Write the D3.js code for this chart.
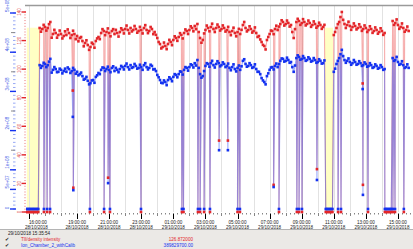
<!DOCTYPE html>
<html><head><meta charset="utf-8">
<script src="https://cdn.jsdelivr.net/npm/d3@7"></script>
<style>body{margin:0;background:#fff;overflow:hidden}svg{display:block;font-family:"Liberation Sans",Arial,sans-serif}</style>
</head><body><svg id="chart" width="413" height="249"></svg>
<script>
// ---------- DATA ----------
const seriesStart = "2018-10-28T15:50:00"; // main samples every 10 minutes
const sampleStepMin = 10;
// TII/density intensity (red axis) at the main samples
const tiiDensity = [0,0,0,0,0,
 128.8,128.1,129.5,128.8,133.0,
 124.6,125.3,123.9,124.6,123.2,123.9,125.3,123.9,124.6,123.2,
 121.8,119.7,118.3,116.9,115.5,117.6,119.7,
 122.5,125.3,126.7,
 126.0,125.3,126.7,124.6,125.3,126.0,127.4,
 128.1,127.4,128.8,127.4,128.1,126.7,127.4,128.8,127.4,126.7,128.1,126.0,
 121.8,117.6,115.5,116.2,
 117.6,119.0,120.4,121.8,122.5,123.9,125.3,126.7,127.4,128.8,130.2,
 131.6,121.8,120.4,
 127.4,128.8,129.5,128.1,128.8,129.5,128.1,128.8,
 127.4,126.0,126.7,125.3,126.0,124.6,
 130.9,128.8,127.4,128.1,126.7,125.3,
 123.2,119.0,116.2,120.4,
 124.6,126.7,128.1,127.4,
 131.6,133.0,131.6,132.3,130.9,
 121.8,
 133.0,133.7,132.3,133.0,131.6,132.3,130.9,131.6,130.2,130.9,129.5,
 0,0,0,
 123.9,128.8,133.0,140.0,131.6,
 130.9,130.2,129.5,130.2,128.8,129.5,128.1,128.8,127.4,128.1,126.7,127.4,126.0,126.7,125.3,
 0,0,
 133.7,132.3,130.9,129.5,128.8,127.4,126.7];
// TII/density intensity at the in-between samples (+5 min)
const tiiDensityMid = [0,0,0,0,0,
 126.2,131.0,127.0,131.5,122.0,127.5,122.0,127.0,121.5,126.5,127.8,121.8,126.9,121.0,119.5,
 122.5,116.0,120.2,113.5,118.5,115.0,121.5,121.0,128.0,123.8,128.5,123.0,128.0,127.5,122.8,
 128.6,125.0,130.5,125.0,126.4,130.2,125.5,129.6,125.0,130.8,125.2,129.5,124.5,124.0,119.0,
 114.5,118.6,114.0,120.5,116.8,123.0,119.8,125.2,121.5,127.8,124.6,130.0,126.5,128.0,126.0,
 118.5,125.0,130.5,126.5,131.8,126.0,131.2,127.0,130.6,126.3,129.6,123.8,129.0,123.0,128.2,
 127.5,133.0,126.4,130.0,125.6,129.2,122.5,120.8,117.0,113.8,122.5,127.0,124.5,130.4,129.8,
 134.2,130.5,134.0,129.8,126.0,128.0,135.2,131.0,135.0,130.6,134.0,129.6,133.4,129.0,132.5,
 128.2,131.0,0,0,0,126.0,131.5,136.5,134.5,128.8,133.2,127.5,132.0,127.8,131.4,
 126.8,130.6,126.0,130.0,125.4,129.2,124.8,128.6,124.0,0,0,0,131.0,134.8,128.2,132.0,126.2,129.8];
// Ion_Chamber_2_withCalib (blue axis), in units of 1e6, main samples
const ionChamberE6 = [0,0,0,0,0,
 367,365,370,367,383,
 355,357,350,355,352,350,357,352,355,350,
 344,339,332,327,321,329,337,
 347,355,360,
 357,355,360,352,355,357,362,
 365,362,367,362,365,360,362,367,362,360,365,357,
 342,329,321,324,
 329,332,337,342,344,350,355,360,362,367,372,
 380,344,339,
 365,370,372,367,370,372,367,370,
 365,360,362,357,360,355,
 378,370,365,367,362,357,
 350,334,324,339,
 355,362,365,362,
 378,383,378,380,375,
 350,
 385,388,383,385,380,383,378,380,375,378,372,
 0,0,0,
 350,370,385,406,380,
 378,375,372,375,370,372,367,370,365,367,362,365,360,362,357,
 0,0,
 385,380,375,370,367,362,360];
// Ion_Chamber_2_withCalib in-between samples (+5 min), units of 1e6
const ionChamberMidE6 = [0,0,0,0,0,
 360,373,362,376,348,362,349,358,346,358,361,347,360,345,341,
 348,330,337,318,328,322,341,344,361,352,363,349,364,360,349,
 365,356,371,356,360,370,358,368,355,372,356,368,356,352,336,
 322,328,316,336,326,344,336,351,343,362,353,369,361,366,360,
 335,352,372,363,378,361,377,364,374,362,371,354,369,351,366,
 364,382,363,372,360,369,350,344,328,318,346,361,356,371,370,
 384,376,386,373,362,366,392,381,390,378,387,376,385,373,382,
 371,379,0,0,0,358,378,395,390,373,384,368,380,368,377,
 365,374,363,372,360,369,358,367,355,0,0,0,378,388,368,377,360,369];
// Drop-outs (short events between samples)
const dropTimes = ["2018-10-28T16:56","2018-10-28T17:08","2018-10-28T17:19","2018-10-28T18:44","2018-10-28T18:46",
 "2018-10-28T19:48","2018-10-28T20:41","2018-10-28T20:56","2018-10-28T21:03","2018-10-28T22:59",
 "2018-10-29T01:32","2018-10-29T01:38","2018-10-29T02:32","2018-10-29T02:40","2018-10-29T02:55","2018-10-29T03:17",
 "2018-10-29T03:51","2018-10-29T04:24","2018-10-29T05:00","2018-10-29T05:09","2018-10-29T07:15","2018-10-29T07:35",
 "2018-10-29T08:42","2018-10-29T08:50","2018-10-29T09:01","2018-10-29T09:57","2018-10-29T11:16","2018-10-29T11:27",
 "2018-10-29T12:48","2018-10-29T12:49","2018-10-29T13:08","2018-10-29T14:11","2018-10-29T14:41","2018-10-29T14:49","2018-10-29T15:22"];
const dropRed =  [0,0,0,85,17, 0,0,24,0,0, 0,0,0,0,0,0, 50,50,0,0,19,0, 0,0,0,30,0,0, 90,19,0,0,0,0,0];
const dropBlueE6=[0,0,0,235,48, 0,0,66,0,0, 0,0,0,0,0,0, 150,150,0,0,56,0, 0,0,0,74,0,0, 306,36,0,0,0,0,0];
// highlighted (no-beam) periods
const bandStarts = ["2018-10-28T15:52","2018-10-29T10:27"];
const bandEnds   = ["2018-10-28T16:41","2018-10-29T10:57"];
// axes
const redTicks = [0,20,40,60,80,100,120,140];
const blueTicks = [0,5e7,1e8,2e8,3e8,4e8,5e8];
const blueTickLabels = ["0","5e+07","1e+08","2e+08","3e+08","4e+08","5e+08"];
const blueHalfTicks = [1.5e8,2.5e8,3.5e8,4.5e8];
const xLabelTimes = ["2018-10-28T16:00","2018-10-28T19:00","2018-10-28T21:00","2018-10-28T23:00","2018-10-29T01:00","2018-10-29T03:00",
 "2018-10-29T05:00","2018-10-29T07:00","2018-10-29T09:00","2018-10-29T11:00","2018-10-29T13:00","2018-10-29T15:00"];
const xLabelTop = ["16:00:00","19:00:00","21:00:00","23:00:00","01:00:00","03:00:00","05:00:00","07:00:00","09:00:00","11:00:00","13:00:00","15:00:00"];
const xLabelBottom = ["28/10/2018","28/10/2018","28/10/2018","28/10/2018","29/10/2018","29/10/2018","29/10/2018","29/10/2018","29/10/2018","29/10/2018","29/10/2018","29/10/2018"];
const legendTime = "29/10/2018 15:35:54";
const legendNames = ["TII/density intensity","Ion_Chamber_2_withCalib"];
const legendValues = ["126.872000","389829700.00"];

// ---------- BUILD ----------
const RED="#e3262a", BLUE="#1432f0", RED_L="rgba(236,70,70,0.45)", BLUE_L="rgba(60,90,250,0.5)";
const parse = s => new Date(s);
const t0 = parse(seriesStart);
const stepMs = sampleStepMin*60000;
const rows = tiiDensity.map((v,i)=>({t:new Date(+t0 + i*stepMs), r:v, b:ionChamberE6[i]*1e6}));
tiiDensityMid.forEach((v,i)=>rows.push({t:new Date(+t0 + i*stepMs + stepMs/2), r:v, b:ionChamberMidE6[i]*1e6}));
dropTimes.forEach((s,i)=>rows.push({t:parse(s), r:dropRed[i], b:dropBlueE6[i]*1e6}));
rows.sort((a,b)=>a.t-b.t);

const svg = d3.select("#chart");
const x = d3.scaleTime().domain([parse("2018-10-28T15:49"), parse("2018-10-29T15:45")]).range([26,410]);
const yR = d3.scaleLinear().domain([0,140]).range([212,12]);
const yB = d3.scaleLinear().domain([0,5e8]).range([209,13]);

// bands
svg.append("g").selectAll("rect").data(bandStarts).join("rect")
  .attr("x",(d,i)=>x(parse(d))).attr("width",(d,i)=>x(parse(bandEnds[i]))-x(parse(d)))
  .attr("y",yR(129)).attr("height",yR(0)-yR(129)).attr("fill","#ffffc4");

// vertical hour grid
const hours = d3.timeHour.range(parse("2018-10-28T16:00"), parse("2018-10-29T15:46"));
svg.append("g").selectAll("line").data(hours).join("line")
  .attr("x1",d=>Math.round(x(d))+0.5).attr("x2",d=>Math.round(x(d))+0.5).attr("y1",6).attr("y2",yR(0))
  .attr("stroke","#e2e2e2").attr("stroke-width",1);

// top border
svg.append("line").attr("x1",25).attr("x2",413).attr("y1",5.5).attr("y2",5.5).attr("stroke","#9a9a9a").attr("stroke-width",1.3);

// x axis ticks
const q = d3.timeMinute.every(15).range(parse("2018-10-28T15:50"), parse("2018-10-29T15:46"));
const xa = svg.append("g");
xa.selectAll("line.m").data(q).join("line").attr("class","m")
  .attr("x1",d=>Math.round(x(d))+0.5).attr("x2",d=>Math.round(x(d))+0.5)
  .attr("y1",yR(0)+1).attr("y2",d=>yR(0)+(d.getMinutes()===0?4:2.5)).attr("stroke","#666").attr("stroke-width",0.8);
const lt = xLabelTimes.map(parse);
xa.selectAll("line.M").data(lt).join("line").attr("class","M")
  .attr("x1",d=>Math.round(x(d))+0.5).attr("x2",d=>Math.round(x(d))+0.5)
  .attr("y1",yR(0)+2).attr("y2",yR(0)+7).attr("stroke","#000").attr("stroke-width",1);
xa.selectAll("text.a").data(lt).join("text").attr("class","a")
  .attr("x",d=>x(d)).attr("y",223.5).attr("text-anchor",(d,i)=>i===0?"start":"middle")
  .attr("font-size",4.6).attr("fill","#222").text((d,i)=>xLabelTop[i]);
xa.selectAll("text.b").data(lt).join("text").attr("class","b")
  .attr("x",(d,i)=>i===0?x(d)-4:x(d)).attr("y",228.7).attr("text-anchor",(d,i)=>i===0?"start":"middle")
  .attr("font-size",4.6).attr("fill","#222").text((d,i)=>xLabelBottom[i]);

// blue y axis
const ba = svg.append("g");
ba.selectAll("line.m").data(d3.range(0,5e8+1,1e7)).join("line").attr("class","m")
  .attr("x1",13).attr("x2",15.5).attr("y1",d=>yB(d)).attr("y2",d=>yB(d)).attr("stroke","#7d93f2").attr("stroke-width",0.8);
ba.selectAll("line.h").data(blueHalfTicks).join("line").attr("class","h")
  .attr("x1",11).attr("x2",15).attr("y1",d=>yB(d)).attr("y2",d=>yB(d)).attr("stroke","#8a8a8a").attr("stroke-width",1);
ba.selectAll("line.M").data(blueTicks).join("line").attr("class","M")
  .attr("x1",10).attr("x2",16).attr("y1",d=>yB(d)).attr("y2",d=>yB(d)).attr("stroke",BLUE).attr("stroke-width",1.4);
ba.selectAll("text").data(blueTicks).join("text")
  .attr("transform",d=>`translate(8.5,${yB(d)-1}) rotate(-90)`).attr("text-anchor",d=>d===0?"middle":"start")
  .attr("font-size",4.6).attr("fill","#3c5ae6").text((d,i)=>blueTickLabels[i]);

// red y axis
const ra = svg.append("g");
ra.selectAll("line.m").data(d3.range(0,141,2)).join("line").attr("class","m")
  .attr("x1",24).attr("x2",26).attr("y1",d=>yR(d)).attr("y2",d=>yR(d)).attr("stroke","#f2a5a5").attr("stroke-width",0.8);
ra.selectAll("line.M").data(redTicks).join("line").attr("class","M")
  .attr("x1",21.5).attr("x2",26).attr("y1",d=>yR(d)).attr("y2",d=>yR(d)).attr("stroke",RED).attr("stroke-width",1.4);
ra.selectAll("text").data(redTicks).join("text")
  .attr("transform",d=>`translate(21,${yR(d)}) rotate(-90)`).attr("text-anchor","middle")
  .attr("font-size",4.6).attr("fill","#e04848").text(d=>d);

// series
svg.append("clipPath").attr("id","pc").append("rect").attr("x",26).attr("y",6).attr("width",387).attr("height",210);
const g = svg.append("g").attr("clip-path","url(#pc)");
const lineR = d3.line().x(d=>x(d.t)).y(d=>yR(d.r));
const lineB = d3.line().x(d=>x(d.t)).y(d=>yB(d.b));
g.append("path").attr("d",lineR(rows)).attr("fill","none").attr("stroke",RED_L).attr("stroke-width",1.1);
g.append("path").attr("d",lineB(rows)).attr("fill","none").attr("stroke",BLUE_L).attr("stroke-width",1.1);
const ms = 2.6;
g.selectAll("rect.r").data(rows).join("rect").attr("class","r")
  .attr("x",d=>x(d.t)-ms/2).attr("y",d=>yR(d.r)-ms/2).attr("width",ms).attr("height",ms).attr("fill",RED);
g.selectAll("rect.b").data(rows).join("rect").attr("class","b")
  .attr("x",d=>x(d.t)-ms/2).attr("y",d=>yB(d.b)-ms/2).attr("width",ms).attr("height",ms).attr("fill",BLUE);

// legend panel
const lp = svg.append("g");
lp.append("rect").attr("x",0).attr("y",229).attr("width",413).attr("height",20).attr("fill","#ebe9e6");
lp.append("line").attr("x1",0).attr("x2",413).attr("y1",229.5).attr("y2",229.5).attr("stroke","#b4b4b4");
lp.append("text").attr("x",8).attr("y",235).attr("font-size",4.6).attr("fill","#222").text(legendTime);
const lc = [RED,BLUE];
legendNames.forEach((n,i)=>{
  const yy = 241+i*6.2;
  lp.append("text").attr("x",5).attr("y",yy).attr("font-size",4.6).attr("fill","#222").text("\u2714");
  lp.append("text").attr("x",21).attr("y",yy).attr("font-size",4.6).attr("fill",lc[i]).text(n);
  lp.append("text").attr("x",193).attr("y",yy).attr("text-anchor","end").attr("font-size",4.6).attr("fill",lc[i]).text(legendValues[i]);
});
</script></body></html>
